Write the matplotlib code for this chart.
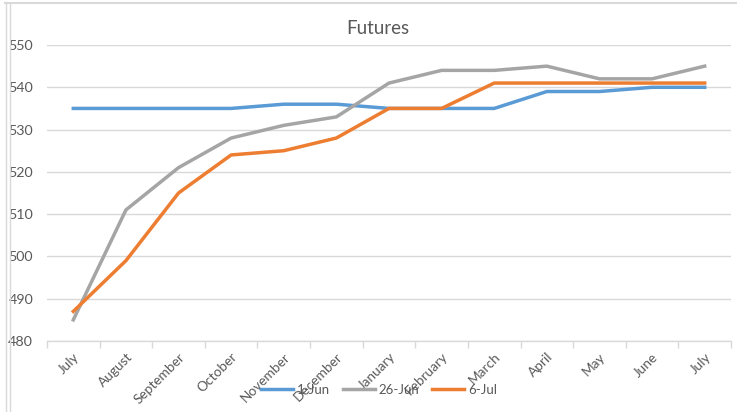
import matplotlib.pyplot as plt
from matplotlib.lines import Line2D
import numpy as np

months = ['July', 'August', 'September', 'October', 'November', 'December',
          'January', 'February', 'March', 'April', 'May', 'June', 'July']
jun1 = [535, 535, 535, 535, 536, 536, 535, 535, 535, 539, 539, 540, 540]
jun26 = [485, 511, 521, 528, 531, 533, 541, 544, 544, 545, 542, 542, 545]
jul6 = [487, 499, 515, 524, 525, 528, 535, 535, 541, 541, 541, 541, 541]
series_names = ['1-Jun', '26-Jun', '6-Jul']

plt.rcParams['font.family'] = ['Lato', 'DejaVu Sans']
txt = '#595959'

fig = plt.figure(figsize=(7.37, 4.12), dpi=100)
ax = fig.add_axes([47/737, 1 - 341/412, (731 - 47)/737, (341 - 45)/412])

x = np.arange(len(months))
ax.plot(x, jun1, color='#5B9BD5', lw=2.5, label=series_names[0], solid_joinstyle='round')
ax.plot(x, jun26, color='#A5A5A5', lw=2.5, label=series_names[1], solid_joinstyle='round')
ax.plot(x, jul6, color='#ED7D31', lw=2.5, label=series_names[2], solid_joinstyle='round')

ax.set_xlim(-0.5, len(months) - 0.5)
ax.set_ylim(480, 550)
ax.set_yticks(range(480, 551, 10))
ax.grid(axis='y', color='#D9D9D9', lw=1)
ax.set_axisbelow(True)

for s in ['top', 'right', 'left']:
    ax.spines[s].set_visible(False)
ax.spines['bottom'].set_color('#D9D9D9')
ax.spines['bottom'].set_linewidth(1)

ax.set_xticks(x)
ax.set_xticklabels(months, rotation=45, ha='right', va='top', rotation_mode='anchor')
ax.set_xticks(np.arange(-0.5, len(months), 1), minor=True)
ax.tick_params(axis='x', which='major', length=0, pad=7, labelsize=9.8, labelcolor=txt)
ax.tick_params(axis='x', which='minor', length=5, color='#D9D9D9', width=1)
ax.tick_params(axis='y', length=0, pad=10, labelsize=10.3, labelcolor=txt)

fig.text(378/737, 1 - 29/412, 'Futures', ha='center', va='center', fontsize=13.5, color=txt)

fig.legend(loc='center', bbox_to_anchor=(379/737, 1 - 390/412), ncol=3, frameon=False,
           fontsize=9.5, labelcolor=txt, handlelength=2.4, handletextpad=0.3,
           columnspacing=1.0)

# chart border
fig.add_artist(Line2D([5.5/737, 5.5/737], [0, 1 - 2/412], color='#D9D9D9', lw=1))
fig.add_artist(Line2D([9.5/737, 9.5/737], [0, 1 - 4/412], color='#D9D9D9', lw=1))
fig.add_artist(Line2D([5/737, 1], [1 - 2.5/412, 1 - 2.5/412], color='#D9D9D9', lw=1.5))

fig.savefig('out.png', dpi=100)
